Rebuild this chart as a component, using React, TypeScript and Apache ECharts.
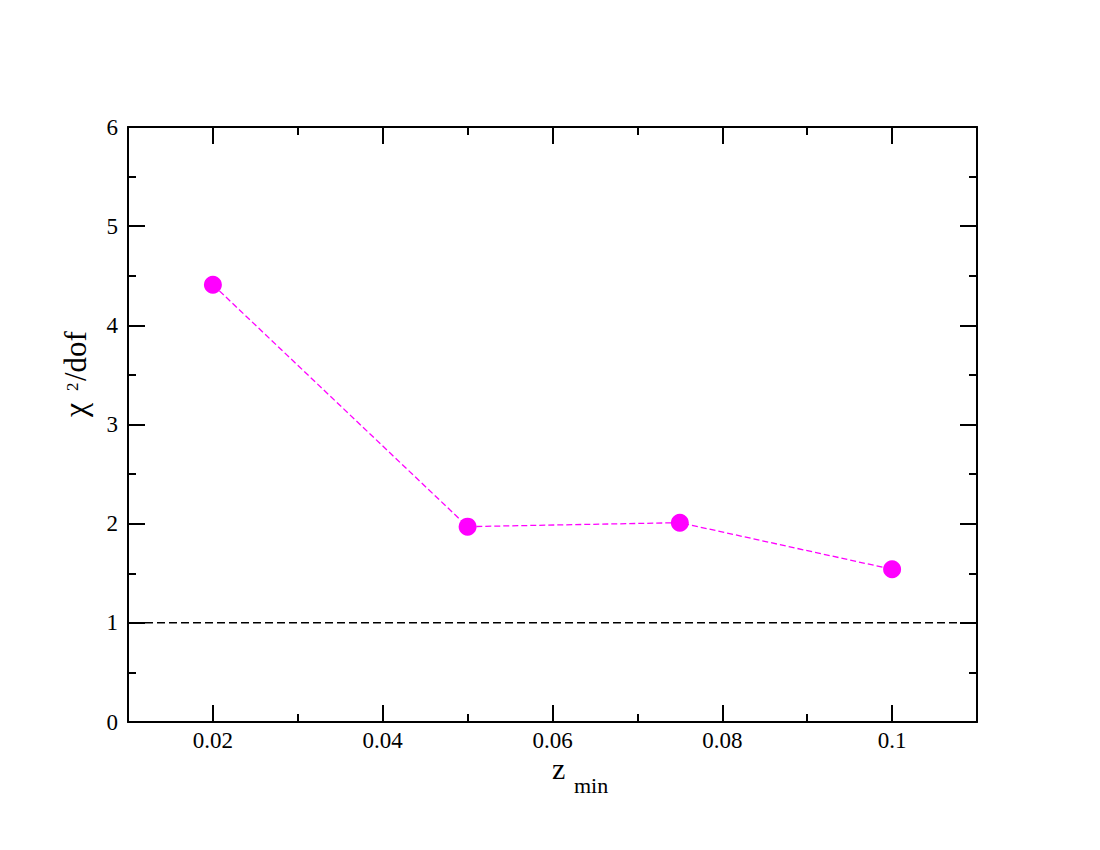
import React, { useEffect, useRef } from "react";
import * as echarts from "echarts";

const zMin: number[] = [0.02, 0.05, 0.075, 0.1];
const chi2dof: number[] = [4.41, 1.97, 2.01, 1.54];
const refLineX: number[] = [0.012, 0.108];
const refLineY: number[] = [1, 1];
const xMajorTicks: number[] = [0.02, 0.04, 0.06, 0.08, 0.1];
const xTickLabels: string[] = ["0.02", "0.04", "0.06", "0.08", "0.1"];

const FONT = "Liberation Serif";
const BLACK = "#000000";
const MAGENTA = "#ff00ff";

export default function App() {
  const ref = useRef<HTMLDivElement>(null);

  useEffect(() => {
    if (!ref.current) return;
    const chart = echarts.init(ref.current, undefined, { renderer: "svg" });
    const axisLine = { show: true, lineStyle: { color: BLACK, width: 2 } };
    const tickStyle = { color: BLACK, width: 2 };
    const xBase = { type: "value" as const, min: 0.01, max: 0.11, splitLine: { show: false } };
    const labelFmt = (v: number) => {
      const i = xMajorTicks.findIndex((t) => Math.abs(t - v) < 1e-9);
      return i >= 0 ? xTickLabels[i] : "";
    };
    const xMajor = (pos: "bottom" | "top", labels: boolean) => ({
      ...xBase,
      position: pos,
      axisLine,
      axisTick: { show: true, inside: true, length: 17, lineStyle: tickStyle, customValues: xMajorTicks },
      axisLabel: {
        show: labels,
        customValues: xMajorTicks,
        formatter: labelFmt,
        color: BLACK,
        fontFamily: FONT,
        fontSize: 23,
        margin: 7,
      },
    });
    const xMinor = (pos: "bottom" | "top") => ({
      ...xBase,
      position: pos,
      interval: 0.01,
      axisLine: { show: false },
      axisTick: { show: true, inside: true, length: 8, lineStyle: tickStyle },
      axisLabel: { show: false },
    });
    const yAx = (pos: "left" | "right", labels: boolean) => ({
      type: "value" as const,
      position: pos,
      min: 0,
      max: 6,
      interval: 1,
      axisLine,
      splitLine: { show: false },
      axisTick: { show: true, inside: true, length: 17, lineStyle: tickStyle },
      minorTick: { show: true, splitNumber: 2, length: 8, lineStyle: tickStyle },
      axisLabel: { show: labels, color: BLACK, fontFamily: FONT, fontSize: 23, margin: 10 },
    });
    const txt = (text: string, size: number) => ({
      text,
      font: `${size}px "${FONT}"`,
      fontFamily: FONT,
      fontSize: size,
      fill: BLACK,
      align: "left",
      verticalAlign: "middle",
      textAlign: "left",
      textVerticalAlign: "middle",
    });

    chart.setOption({
      animation: false,
      backgroundColor: "#ffffff",
      grid: { left: 128, right: 123, top: 127, bottom: 128, containLabel: false },
      xAxis: [xMajor("bottom", true), xMinor("bottom"), xMajor("top", false), xMinor("top")],
      yAxis: [yAx("left", true), yAx("right", false)],
      series: [
        {
          type: "line",
          xAxisIndex: 0,
          yAxisIndex: 0,
          data: refLineX.map((x, i) => [x, refLineY[i]]),
          symbol: "none",
          lineStyle: { color: BLACK, width: 1.5, type: [8, 4] },
          silent: true,
          z: 1,
        },
        {
          type: "line",
          xAxisIndex: 0,
          yAxisIndex: 0,
          data: zMin.map((x, i) => [x, chi2dof[i]]),
          symbol: "circle",
          symbolSize: 18,
          itemStyle: { color: MAGENTA },
          lineStyle: { color: MAGENTA, width: 1.3, type: [6, 3] },
          z: 3,
        },
      ],
      graphic: [
        { type: "text", x: 552, y: 768, style: txt("z", 30) },
        { type: "text", x: 574, y: 785, style: txt("min", 22) },
        { type: "text", x: 75, y: 417, rotation: Math.PI / 2, style: txt("χ", 32) },
        { type: "text", x: 72, y: 391, rotation: Math.PI / 2, style: txt("2", 17) },
        { type: "text", x: 75, y: 381, rotation: Math.PI / 2, style: txt("/dof", 31) },
      ],
    });
    return () => chart.dispose();
  }, []);

  return (
    <div
      ref={ref}
      style={{ position: "fixed", left: 0, top: 0, width: 1100, height: 850, background: "#fff" }}
    />
  );
}
